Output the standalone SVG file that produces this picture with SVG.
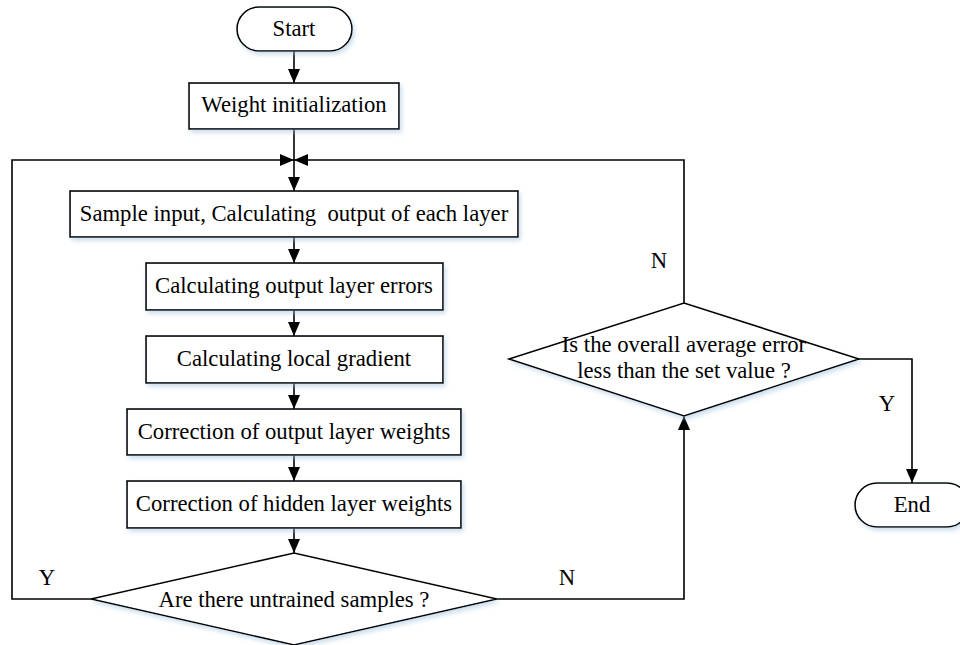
<svg xmlns="http://www.w3.org/2000/svg" width="960" height="645" viewBox="0 0 960 645">
<style>
.node{fill:#fff;stroke:#000;stroke-width:1.6;filter:url(#sh)}
.t{font-family:"Liberation Serif","Times New Roman",serif;font-size:22.7px;fill:#000;text-anchor:middle}
.c{fill:none;stroke:#000;stroke-width:1.6}
</style>
<defs>
<filter id="sh" x="-10%" y="-10%" width="130%" height="140%">
<feDropShadow dx="2" dy="3" stdDeviation="2" flood-color="#9fbfdc" flood-opacity="0.5"/>
</filter>
<marker id="ah" markerUnits="userSpaceOnUse" markerWidth="14" markerHeight="12" refX="14" refY="6" orient="auto">
<path d="M0,0 L14,6 L0,12 Z" fill="#000"/>
</marker>
</defs>
<rect width="960" height="645" fill="#fff"/>
<g id="connectors">
<path class="c" d="M294,51 V83" marker-end="url(#ah)"/>
<path class="c" d="M294,129 V191" marker-end="url(#ah)"/>
<path class="c" d="M91,599 H12 V160 H294" marker-end="url(#ah)"/>
<path class="c" d="M684,303 V160 H294" marker-end="url(#ah)"/>
<path class="c" d="M294,237 V263" marker-end="url(#ah)"/>
<path class="c" d="M294,310 V336" marker-end="url(#ah)"/>
<path class="c" d="M294,383 V409" marker-end="url(#ah)"/>
<path class="c" d="M294,455 V481" marker-end="url(#ah)"/>
<path class="c" d="M294,528 V553" marker-end="url(#ah)"/>
<path class="c" d="M497,599 H684 V416" marker-end="url(#ah)"/>
<path class="c" d="M859,359 H912 V483" marker-end="url(#ah)"/>
<text class="t" x="47" y="585">Y</text>
<text class="t" x="567" y="585">N</text>
<text class="t" x="659" y="268">N</text>
<text class="t" x="887" y="411">Y</text>
</g>
<g id="start">
<rect class="node" x="237" y="7" width="115" height="44" rx="22"/>
<text class="t" x="294" y="36">Start</text>
</g>
<g id="weight-init">
<rect class="node" x="189" y="83" width="210" height="46"/>
<text class="t" x="294" y="112">Weight initialization</text>
</g>
<g id="sample-input">
<rect class="node" x="70" y="191" width="448" height="46"/>
<text class="t" x="294" y="221" xml:space="preserve">Sample input, Calculating  output of each layer</text>
</g>
<g id="output-errors">
<rect class="node" x="146" y="263" width="297" height="47"/>
<text class="t" x="294" y="293">Calculating output layer errors</text>
</g>
<g id="local-gradient">
<rect class="node" x="146" y="336" width="297" height="47"/>
<text class="t" x="294" y="366">Calculating local gradient</text>
</g>
<g id="correct-output">
<rect class="node" x="127" y="409" width="334" height="46"/>
<text class="t" x="294" y="439">Correction of output layer weights</text>
</g>
<g id="correct-hidden">
<rect class="node" x="127" y="481" width="334" height="47"/>
<text class="t" x="294" y="511">Correction of hidden layer weights</text>
</g>
<g id="untrained">
<polygon class="node" points="294,553 497,599 294,645 91,599"/>
<text class="t" x="294" y="607">Are there untrained samples ?</text>
</g>
<g id="avg-error">
<polygon class="node" points="684,303 859,359 684,416 509,359"/>
<text class="t" x="684" y="352">Is the overall average error</text>
<text class="t" x="684" y="378">less than the set value ?</text>
</g>
<g id="end">
<rect class="node" x="855" y="483" width="114" height="44" rx="22"/>
<text class="t" x="912" y="512">End</text>
</g>
</svg>
